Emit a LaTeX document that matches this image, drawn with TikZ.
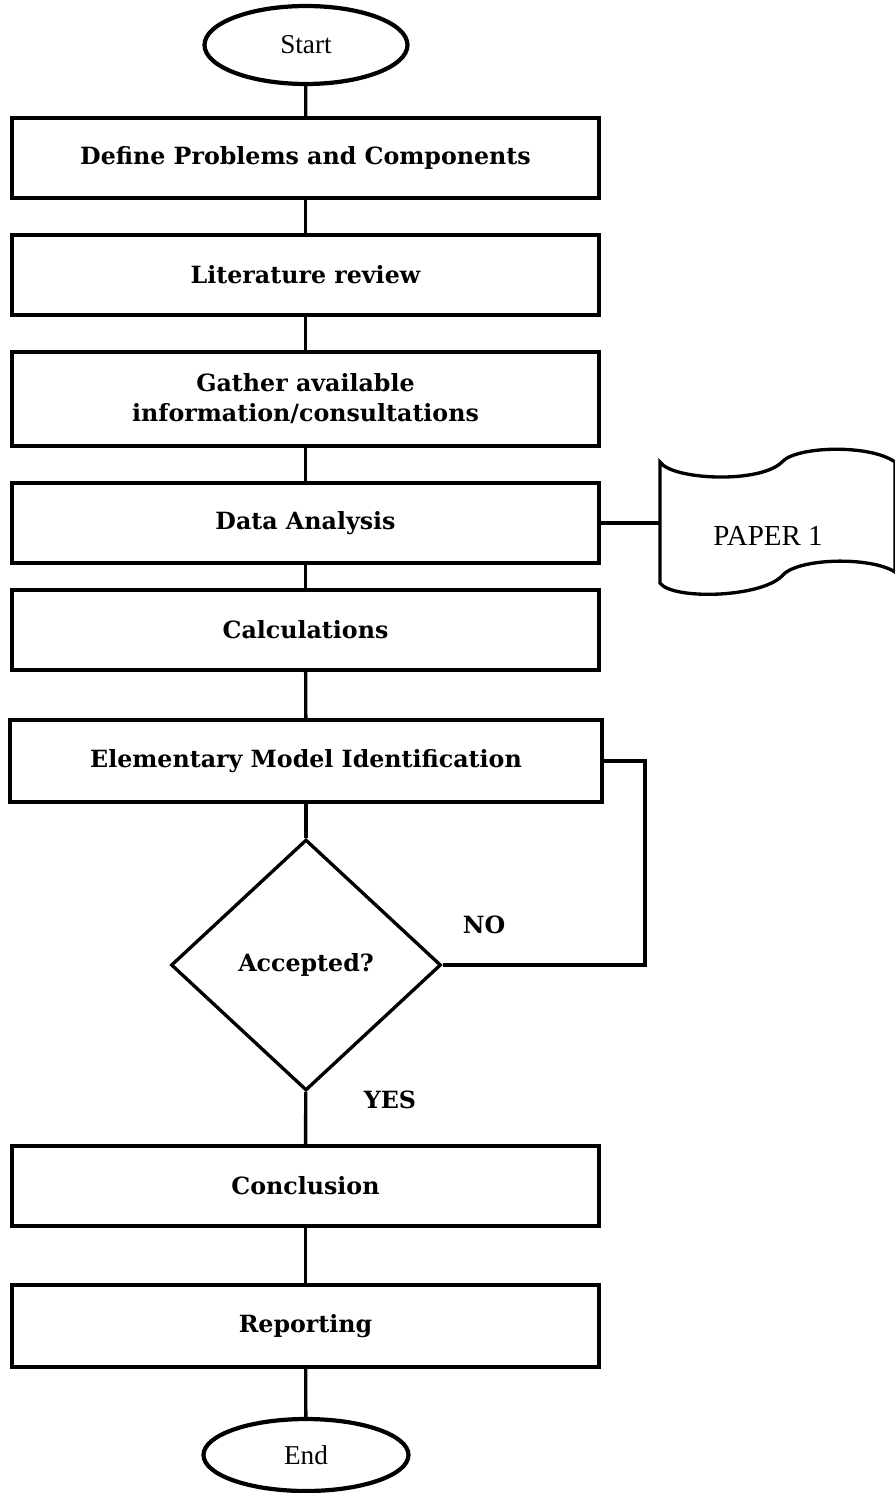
\documentclass[tikz,border=0pt]{standalone}
\usepackage{fontspec}
\setmainfont{DejaVu Serif}
\newfontfamily\plainserif{Liberation Serif}
\usetikzlibrary{shapes.geometric}
\begin{document}
\begin{tikzpicture}[x=0.02cm,y=-0.02cm,
	stepbox/.style={draw,line width=2.4pt,minimum width=11.74cm,minimum height=1.6cm,align=center,font=\bfseries\fontsize{13.5}{17}\selectfont},
	terminal/.style={draw,ellipse,line width=2.4pt,inner sep=0pt,font=\plainserif\fontsize{15.5}{18}\selectfont},
	link/.style={line width=1.9pt},
	answer/.style={font=\bfseries\fontsize{13.5}{16}\selectfont}]
	%flowchart
	\useasboundingbox (0,0) rectangle (895,1493);
	\node[terminal,minimum width=4.06cm,minimum height=1.56cm] (start) at (306,45) {Start};
	\node[stepbox] (define) at (305.5,158) {Define Problems and Components};
	\node[stepbox] (review) at (305.5,275) {Literature review};
	\node[stepbox,minimum height=1.88cm] (gather) at (305.5,399) {Gather available\\information/consultations};
	\node[stepbox] (analysis) at (305.5,523) {Data Analysis};
	\node[stepbox] (calc) at (305.5,630) {Calculations};
	\node[stepbox,minimum width=11.84cm,minimum height=1.64cm] (model) at (306,761) {Elementary Model Identification};
	\node[draw,diamond,line width=1.9pt,inner sep=0pt,minimum width=5.4cm,minimum height=5.02cm,font=\bfseries\fontsize{13.5}{16}\selectfont] (accept) at (306,965) {Accepted?};
	\node[stepbox] (concl) at (305.5,1186) {Conclusion};
	\node[stepbox,minimum height=1.64cm] (report) at (305.5,1326) {Reporting};
	\node[terminal,minimum width=4.1cm,minimum height=1.44cm] (end) at (306,1455) {End};
	\node[answer] (no) at (484,925) {NO};
	\node[answer] (yes) at (390,1100) {YES};
	% paper document
	\draw [line width=1.9pt,fill=white]
	(660,462) .. controls (672,480) and (760,484) .. (782,462)
	.. controls (796,446) and (870,444) .. (895,462) -- (895,572)
	.. controls (870,556) and (796,558) .. (782,576)
	.. controls (760,598) and (672,600) .. (660,583) -- cycle;
	\coordinate (paperin) at (660,523);
	\node[font=\plainserif\fontsize{16.5}{19}\selectfont] (paper) at (768,536) {PAPER 1};
	% connectors
	\draw [link] (start)--(define);
	\draw [link] (define)--(review);
	\draw [link] (review)--(gather);
	\draw [link] (gather)--(analysis);
	\draw [link] (analysis)--(calc);
	\draw [link] (calc)--(model);
	\draw [link] (model)--(accept);
	\draw [link] (accept)--(concl);
	\draw [link] (concl)--(report);
	\draw [link] (report)--(end);
	\draw [link] (analysis.east)--(paperin);
	\draw [link] (accept.east)-|(645,761)--(model.east);
\end{tikzpicture}
\end{document}
